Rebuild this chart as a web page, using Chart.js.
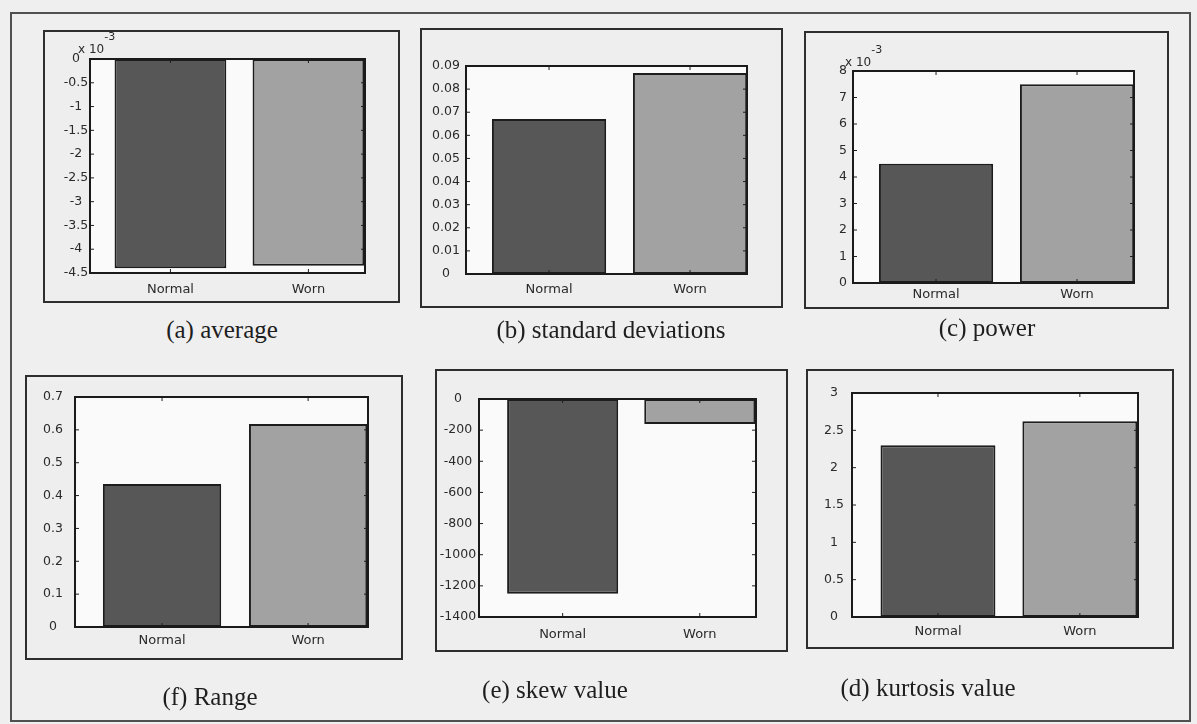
<!DOCTYPE html>
<html>
<head>
<meta charset="utf-8">
<script src="https://cdn.jsdelivr.net/npm/chart.js@4.4.1/dist/chart.umd.min.js"></script>
<style>
  html, body { margin: 0; padding: 0; background: #efefef; }
  #fig { position: relative; width: 1197px; height: 724px; overflow: hidden; background: #efefef; }
  .frame { position: absolute; box-sizing: border-box; border: 2px solid #505050; }
  .panel { position: absolute; box-sizing: border-box; border: 2px solid #2e2e2e; background: #eeeeee; }
  #fig canvas { position: absolute; left: 0; top: 0; pointer-events: none; }
  .cap { position: absolute; transform: translate(-50%, -50%); font-family: "Liberation Serif", serif;
         font-size: 25px; color: #1e1e1e; white-space: nowrap; }
</style>
</head>
<body>
<div id="fig"></div>
<script>
// Feature comparison between the normal and the worn condition
const categories = ['Normal', 'Worn'];

const averageValues  = [-4.40e-3, -4.35e-3];
const averageTicks   = [-4.5, -4, -3.5, -3, -2.5, -2, -1.5, -1, -0.5, 0];   // x 10^-3
const stdValues      = [0.0671, 0.0870];
const stdTicks       = [0, 0.01, 0.02, 0.03, 0.04, 0.05, 0.06, 0.07, 0.08, 0.09];
const powerValues    = [4.5e-3, 7.5e-3];
const powerTicks     = [0, 1, 2, 3, 4, 5, 6, 7, 8];                          // x 10^-3
const rangeValues    = [0.435, 0.618];
const rangeTicks     = [0, 0.1, 0.2, 0.3, 0.4, 0.5, 0.6, 0.7];
const skewValues     = [-1250, -160];
const skewTicks      = [-1400, -1200, -1000, -800, -600, -400, -200, 0];
const kurtosisValues = [2.30, 2.62];
const kurtosisTicks  = [0, 0.5, 1, 1.5, 2, 2.5, 3];

const barColors = ['#575757', '#a2a2a2'];

// Page layout: panel boxes, plot rectangles and caption anchors (pixels)
const panels = [
  { caption: '(a) average', values: averageValues, ticks: averageTicks, exponent: -3,
    box: [43, 30, 400, 303], plot: [90, 59, 365, 273], xRange: [0.417, 2.41],
    labelCenter: 14, xPad: 9, cap: [222, 330], exp: [-12, -9] },
  { caption: '(b) standard deviations', values: stdValues, ticks: stdTicks, exponent: 0,
    box: [420, 28, 783, 308], plot: [466, 66, 747, 274], xRange: [0.411, 2.404],
    labelCenter: 20, xPad: 8, cap: [611, 330] },
  { caption: '(c) power', values: powerValues, ticks: powerTicks, exponent: -3,
    box: [804, 31, 1169, 309], plot: [853, 71, 1134, 283], xRange: [0.411, 2.404],
    labelCenter: 10, xPad: 4, cap: [987, 328], exp: [-8, -8] },
  { caption: '(f) Range', values: rangeValues, ticks: rangeTicks, exponent: 0,
    box: [25, 375, 403, 660], plot: [75, 397, 368, 627], xRange: [0.404, 2.41],
    labelCenter: 22, xPad: 6, cap: [210, 697] },
  { caption: '(e) skew value', values: skewValues, ticks: skewTicks, exponent: 0,
    box: [435, 369, 788, 652], plot: [479, 399, 756, 617], xRange: [0.39, 2.41],
    labelCenter: 21, xPad: 10, cap: [555, 690] },
  { caption: '(d) kurtosis value', values: kurtosisValues, ticks: kurtosisTicks, exponent: 0,
    box: [806, 369, 1174, 649], plot: [852, 393, 1138, 617], xRange: [0.394, 2.41],
    labelCenter: 18, xPad: 7, cap: [928, 688] }
];

const W = 1197, H = 724;
const Y_AXIS_W = 70, X_AXIS_H = 26;
const tickFont = { family: '"DejaVu Sans", sans-serif', size: 12.5 };
const catFont = { family: '"DejaVu Sans", sans-serif', size: 13 };

const fig = document.getElementById('fig');

const outer = document.createElement('div');
outer.className = 'frame';
Object.assign(outer.style, { left: '10px', top: '12px', width: '1181px', height: '710px' });
fig.appendChild(outer);

const measureCtx = document.createElement('canvas').getContext('2d');
measureCtx.font = tickFont.size + 'px ' + tickFont.family;

// Plot box, MATLAB-style inward tick marks and the "x 10^-3" multiplier
const axesBox = {
  id: 'axesBox',
  beforeDatasetsDraw(chart) {
    const a = chart.chartArea, ctx = chart.ctx;
    ctx.save();
    ctx.fillStyle = '#fafafa';
    ctx.fillRect(a.left, a.top, a.right - a.left, a.bottom - a.top);
    ctx.restore();
  },
  afterDatasetsDraw(chart, args, opts) {
    const a = chart.chartArea, ctx = chart.ctx;
    const xs = chart.scales.x, ys = chart.scales.y;
    ctx.save();
    ctx.strokeStyle = '#1e1e1e';
    ctx.lineWidth = 1;
    ctx.beginPath();
    ys.ticks.forEach(t => {
      const py = ys.getPixelForValue(t.value);
      if (py <= a.top + 1 || py >= a.bottom - 1) return;
      ctx.moveTo(a.left, py); ctx.lineTo(a.left + 4, py);
      ctx.moveTo(a.right, py); ctx.lineTo(a.right - 4, py);
    });
    xs.ticks.forEach(t => {
      const px = xs.getPixelForValue(t.value);
      ctx.moveTo(px, a.top); ctx.lineTo(px, a.top + 4);
      ctx.moveTo(px, a.bottom); ctx.lineTo(px, a.bottom - 4);
    });
    ctx.stroke();
    ctx.lineWidth = 2;
    ctx.strokeStyle = '#1a1a1a';
    ctx.strokeRect(a.left, a.top, a.right - a.left, a.bottom - a.top);
    if (opts.exponent) {
      ctx.fillStyle = '#2a2a2a';
      ctx.textBaseline = 'middle';
      ctx.textAlign = 'left';
      ctx.font = '12px "DejaVu Sans", sans-serif';
      const x0 = a.left + opts.exp[0], y0 = a.top + opts.exp[1];
      ctx.fillText('x 10', x0, y0);
      const w = ctx.measureText('x 10').width;
      ctx.font = '11px "DejaVu Sans", sans-serif';
      ctx.fillText(String(opts.exponent), x0 + w, y0 - 13);
    }
    ctx.restore();
  }
};

panels.forEach(p => {
  const [bl, bt, br, bb] = p.box;
  const box = document.createElement('div');
  box.className = 'panel';
  Object.assign(box.style, { left: bl + 'px', top: bt + 'px', width: (br - bl) + 'px', height: (bb - bt) + 'px' });
  fig.appendChild(box);

  const cap = document.createElement('div');
  cap.className = 'cap';
  cap.textContent = p.caption;
  cap.style.left = p.cap[0] + 'px';
  cap.style.top = p.cap[1] + 'px';
  fig.appendChild(cap);

  const canvas = document.createElement('canvas');
  canvas.width = W; canvas.height = H;
  canvas.style.width = W + 'px'; canvas.style.height = H + 'px';
  fig.appendChild(canvas);

  const factor = Math.pow(10, p.exponent);
  const labels = p.ticks.map(t => String(t));
  const widest = Math.max(...labels.map(s => measureCtx.measureText(s).width));
  const [pl, pt, pr, pb] = p.plot;

  new Chart(canvas, {
    type: 'bar',
    data: {
      datasets: [{
        data: p.values.map((v, i) => ({ x: i + 1, y: v })),
        backgroundColor: barColors,
        borderColor: '#1c1c1c',
        borderWidth: 2,
        borderSkipped: false,
        categoryPercentage: 1,
        barPercentage: 0.81
      }]
    },
    options: {
      responsive: false,
      animation: false,
      devicePixelRatio: 1,
      layout: { padding: { left: pl - Y_AXIS_W, top: pt, right: W - pr, bottom: H - pb - X_AXIS_H } },
      plugins: {
        legend: { display: false },
        tooltip: { enabled: false },
        axesBox: { exponent: p.exponent, exp: p.exp || [0, 0] }
      },
      scales: {
        x: {
          type: 'linear',
          offset: false,
          min: p.xRange[0],
          max: p.xRange[1],
          grid: { display: false, drawTicks: false, offset: false },
          border: { display: false },
          afterBuildTicks: s => { s.ticks = categories.map((c, i) => ({ value: i + 1 })); },
          afterFit: s => { s.height = X_AXIS_H; },
          ticks: {
            autoSkip: false,
            maxRotation: 0,
            padding: p.xPad,
            color: '#2a2a2a',
            font: catFont,
            callback: (v, i) => categories[i]
          }
        },
        y: {
          type: 'linear',
          min: Math.min(...p.ticks) * factor,
          max: Math.max(...p.ticks) * factor,
          grid: { display: false, drawTicks: false },
          border: { display: false },
          afterBuildTicks: s => { s.ticks = p.ticks.map(t => ({ value: t * factor })); },
          afterFit: s => { s.width = Y_AXIS_W; },
          ticks: {
            autoSkip: false,
            crossAlign: 'center',
            padding: p.labelCenter - widest / 2,
            color: '#2a2a2a',
            font: tickFont,
            callback: (v, i) => labels[i]
          }
        }
      }
    },
    plugins: [axesBox]
  });
});
</script>
</body>
</html>
